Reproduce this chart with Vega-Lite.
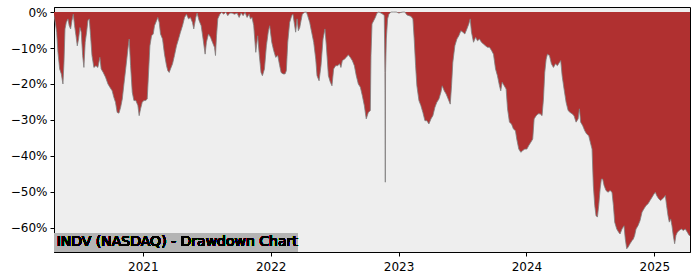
{
  "$schema": "https://vega.github.io/schema/vega-lite/v6.json",
  "width": 636,
  "height": 245,
  "autosize": {"type": "none"},
  "padding": {"left": 54, "top": 7, "right": 10, "bottom": 28},
  "background": "white",
  "config": {
    "font": "DejaVu Sans",
    "view": {"stroke": "black", "strokeWidth": 1, "fill": "#eeeeee"},
    "axis": {"grid": false, "domainColor": "black", "tickColor": "black", "labelColor": "black", "labelFontSize": 12, "tickSize": 4, "title": null, "labelFont": "DejaVu Sans"}
  },
  "data": {"values": [
    {"year":2020.305,"drawdown":-0.01},{"year":2020.315,"drawdown":-0.029},{"year":2020.326,"drawdown":-0.056},{"year":2020.336,"drawdown":-0.112},{"year":2020.349,"drawdown":-0.158},{"year":2020.362,"drawdown":-0.172},{"year":2020.375,"drawdown":-0.2},{"year":2020.383,"drawdown":-0.14},{"year":2020.391,"drawdown":-0.047},{"year":2020.401,"drawdown":-0.029},{"year":2020.414,"drawdown":-0.019},{"year":2020.424,"drawdown":-0.038},{"year":2020.435,"drawdown":-0.047},{"year":2020.445,"drawdown":-0.024},{"year":2020.456,"drawdown":-0.006},{"year":2020.466,"drawdown":-0.038},{"year":2020.477,"drawdown":-0.066},{"year":2020.487,"drawdown":-0.094},{"year":2020.497,"drawdown":-0.075},{"year":2020.508,"drawdown":-0.043},{"year":2020.518,"drawdown":-0.056},{"year":2020.529,"drawdown":-0.121},{"year":2020.539,"drawdown":-0.154},{"year":2020.549,"drawdown":-0.084},{"year":2020.56,"drawdown":-0.056},{"year":2020.57,"drawdown":-0.024},{"year":2020.581,"drawdown":-0.019},{"year":2020.591,"drawdown":-0.066},{"year":2020.602,"drawdown":-0.121},{"year":2020.617,"drawdown":-0.154},{"year":2020.633,"drawdown":-0.149},{"year":2020.648,"drawdown":-0.154},{"year":2020.664,"drawdown":-0.126},{"year":2020.674,"drawdown":-0.158},{"year":2020.69,"drawdown":-0.168},{"year":2020.708,"drawdown":-0.181},{"year":2020.727,"drawdown":-0.2},{"year":2020.742,"drawdown":-0.209},{"year":2020.76,"drawdown":-0.219},{"year":2020.773,"drawdown":-0.237},{"year":2020.786,"drawdown":-0.251},{"year":2020.799,"drawdown":-0.279},{"year":2020.813,"drawdown":-0.281},{"year":2020.826,"drawdown":-0.265},{"year":2020.839,"drawdown":-0.242},{"year":2020.852,"drawdown":-0.2},{"year":2020.867,"drawdown":-0.154},{"year":2020.883,"drawdown":-0.103},{"year":2020.893,"drawdown":-0.075},{"year":2020.904,"drawdown":-0.149},{"year":2020.917,"drawdown":-0.223},{"year":2020.93,"drawdown":-0.246},{"year":2020.945,"drawdown":-0.246},{"year":2020.961,"drawdown":-0.26},{"year":2020.971,"drawdown":-0.288},{"year":2020.982,"drawdown":-0.269},{"year":2020.995,"drawdown":-0.251},{"year":2021.008,"drawdown":-0.246},{"year":2021.021,"drawdown":-0.246},{"year":2021.034,"drawdown":-0.242},{"year":2021.042,"drawdown":-0.186},{"year":2021.055,"drawdown":-0.094},{"year":2021.068,"drawdown":-0.066},{"year":2021.081,"drawdown":-0.061},{"year":2021.091,"drawdown":-0.038},{"year":2021.107,"drawdown":-0.024},{"year":2021.117,"drawdown":-0.015},{"year":2021.128,"drawdown":-0.029},{"year":2021.138,"drawdown":-0.061},{"year":2021.154,"drawdown":-0.075},{"year":2021.169,"drawdown":-0.117},{"year":2021.185,"drawdown":-0.149},{"year":2021.195,"drawdown":-0.163},{"year":2021.206,"drawdown":-0.168},{"year":2021.216,"drawdown":-0.158},{"year":2021.232,"drawdown":-0.144},{"year":2021.247,"drawdown":-0.121},{"year":2021.263,"drawdown":-0.094},{"year":2021.279,"drawdown":-0.075},{"year":2021.294,"drawdown":-0.056},{"year":2021.31,"drawdown":-0.038},{"year":2021.326,"drawdown":-0.015},{"year":2021.341,"drawdown":-0.006},{"year":2021.357,"drawdown":-0.019},{"year":2021.372,"drawdown":-0.015},{"year":2021.388,"drawdown":-0.029},{"year":2021.398,"drawdown":-0.047},{"year":2021.414,"drawdown":-0.015},{"year":2021.424,"drawdown":-0.003},{"year":2021.44,"drawdown":-0.024},{"year":2021.456,"drawdown":-0.038},{"year":2021.471,"drawdown":-0.075},{"year":2021.487,"drawdown":-0.117},{"year":2021.497,"drawdown":-0.084},{"year":2021.513,"drawdown":-0.061},{"year":2021.529,"drawdown":-0.07},{"year":2021.544,"drawdown":-0.084},{"year":2021.56,"drawdown":-0.098},{"year":2021.568,"drawdown":-0.121},{"year":2021.576,"drawdown":-0.066},{"year":2021.586,"drawdown":-0.019},{"year":2021.602,"drawdown":-0.006},{"year":2021.617,"drawdown":-0.001},{"year":2021.633,"drawdown":-0.006},{"year":2021.648,"drawdown":0},{"year":2021.664,"drawdown":-0.01},{"year":2021.68,"drawdown":-0.003},{"year":2021.698,"drawdown":-0.003},{"year":2021.716,"drawdown":-0.006},{"year":2021.737,"drawdown":-0.003},{"year":2021.753,"drawdown":-0.015},{"year":2021.768,"drawdown":-0.003},{"year":2021.784,"drawdown":-0.01},{"year":2021.799,"drawdown":-0.001},{"year":2021.815,"drawdown":-0.015},{"year":2021.831,"drawdown":-0.006},{"year":2021.841,"drawdown":-0.019},{"year":2021.854,"drawdown":-0.015},{"year":2021.867,"drawdown":-0.038},{"year":2021.883,"drawdown":-0.112},{"year":2021.898,"drawdown":-0.066},{"year":2021.911,"drawdown":-0.121},{"year":2021.924,"drawdown":-0.168},{"year":2021.935,"drawdown":-0.177},{"year":2021.951,"drawdown":-0.158},{"year":2021.966,"drawdown":-0.094},{"year":2021.982,"drawdown":-0.052},{"year":2021.992,"drawdown":-0.038},{"year":2022.008,"drawdown":-0.084},{"year":2022.023,"drawdown":-0.107},{"year":2022.039,"drawdown":-0.126},{"year":2022.055,"drawdown":-0.121},{"year":2022.07,"drawdown":-0.149},{"year":2022.081,"drawdown":-0.168},{"year":2022.096,"drawdown":-0.172},{"year":2022.112,"drawdown":-0.172},{"year":2022.122,"drawdown":-0.163},{"year":2022.133,"drawdown":-0.084},{"year":2022.148,"drawdown":-0.029},{"year":2022.164,"drawdown":-0.01},{"year":2022.174,"drawdown":-0.006},{"year":2022.185,"drawdown":-0.033},{"year":2022.195,"drawdown":-0.056},{"year":2022.206,"drawdown":-0.019},{"year":2022.216,"drawdown":-0.052},{"year":2022.227,"drawdown":-0.043},{"year":2022.237,"drawdown":-0.024},{"year":2022.247,"drawdown":-0.006},{"year":2022.263,"drawdown":-0.001},{"year":2022.279,"drawdown":0},{"year":2022.289,"drawdown":-0.01},{"year":2022.305,"drawdown":-0.029},{"year":2022.32,"drawdown":-0.056},{"year":2022.336,"drawdown":-0.084},{"year":2022.352,"drawdown":-0.131},{"year":2022.362,"drawdown":-0.177},{"year":2022.378,"drawdown":-0.191},{"year":2022.393,"drawdown":-0.149},{"year":2022.409,"drawdown":-0.075},{"year":2022.424,"drawdown":-0.047},{"year":2022.435,"drawdown":-0.094},{"year":2022.451,"drawdown":-0.177},{"year":2022.466,"drawdown":-0.195},{"year":2022.479,"drawdown":-0.205},{"year":2022.492,"drawdown":-0.158},{"year":2022.508,"drawdown":-0.149},{"year":2022.523,"drawdown":-0.149},{"year":2022.539,"drawdown":-0.144},{"year":2022.549,"drawdown":-0.154},{"year":2022.56,"drawdown":-0.135},{"year":2022.576,"drawdown":-0.131},{"year":2022.591,"drawdown":-0.126},{"year":2022.607,"drawdown":-0.119},{"year":2022.622,"drawdown":-0.126},{"year":2022.638,"drawdown":-0.135},{"year":2022.654,"drawdown":-0.149},{"year":2022.669,"drawdown":-0.177},{"year":2022.685,"drawdown":-0.2},{"year":2022.701,"drawdown":-0.209},{"year":2022.716,"drawdown":-0.232},{"year":2022.732,"drawdown":-0.26},{"year":2022.747,"drawdown":-0.297},{"year":2022.763,"drawdown":-0.279},{"year":2022.779,"drawdown":-0.274},{"year":2022.784,"drawdown":-0.121},{"year":2022.792,"drawdown":-0.033},{"year":2022.805,"drawdown":-0.024},{"year":2022.818,"drawdown":-0.015},{"year":2022.831,"drawdown":-0.003},{"year":2022.846,"drawdown":0},{"year":2022.862,"drawdown":-0.003},{"year":2022.878,"drawdown":-0.006},{"year":2022.888,"drawdown":-0.01},{"year":2022.893,"drawdown":-0.168},{"year":2022.896,"drawdown":-0.473},{"year":2022.898,"drawdown":-0.168},{"year":2022.904,"drawdown":-0.075},{"year":2022.914,"drawdown":-0.019},{"year":2022.924,"drawdown":-0.006},{"year":2022.94,"drawdown":0},{"year":2022.961,"drawdown":0},{"year":2022.982,"drawdown":0},{"year":2023.003,"drawdown":-0.003},{"year":2023.018,"drawdown":-0.001},{"year":2023.034,"drawdown":0},{"year":2023.049,"drawdown":0},{"year":2023.065,"drawdown":-0.008},{"year":2023.081,"drawdown":-0.01},{"year":2023.096,"drawdown":-0.012},{"year":2023.112,"drawdown":-0.019},{"year":2023.122,"drawdown":-0.075},{"year":2023.133,"drawdown":-0.149},{"year":2023.143,"drawdown":-0.205},{"year":2023.159,"drawdown":-0.246},{"year":2023.174,"drawdown":-0.26},{"year":2023.19,"drawdown":-0.279},{"year":2023.206,"drawdown":-0.302},{"year":2023.221,"drawdown":-0.302},{"year":2023.237,"drawdown":-0.311},{"year":2023.253,"drawdown":-0.297},{"year":2023.268,"drawdown":-0.288},{"year":2023.284,"drawdown":-0.265},{"year":2023.299,"drawdown":-0.251},{"year":2023.315,"drawdown":-0.242},{"year":2023.331,"drawdown":-0.223},{"year":2023.341,"drawdown":-0.205},{"year":2023.357,"drawdown":-0.219},{"year":2023.372,"drawdown":-0.228},{"year":2023.388,"drawdown":-0.242},{"year":2023.404,"drawdown":-0.256},{"year":2023.414,"drawdown":-0.205},{"year":2023.424,"drawdown":-0.14},{"year":2023.44,"drawdown":-0.094},{"year":2023.456,"drawdown":-0.075},{"year":2023.471,"drawdown":-0.066},{"year":2023.487,"drawdown":-0.052},{"year":2023.503,"drawdown":-0.056},{"year":2023.518,"drawdown":-0.061},{"year":2023.534,"drawdown":-0.047},{"year":2023.549,"drawdown":-0.033},{"year":2023.56,"drawdown":-0.019},{"year":2023.57,"drawdown":-0.056},{"year":2023.586,"drawdown":-0.084},{"year":2023.602,"drawdown":-0.07},{"year":2023.617,"drawdown":-0.08},{"year":2023.633,"drawdown":-0.075},{"year":2023.648,"drawdown":-0.084},{"year":2023.664,"drawdown":-0.089},{"year":2023.68,"drawdown":-0.094},{"year":2023.695,"drawdown":-0.098},{"year":2023.711,"drawdown":-0.098},{"year":2023.727,"drawdown":-0.107},{"year":2023.742,"drawdown":-0.117},{"year":2023.758,"drawdown":-0.158},{"year":2023.773,"drawdown":-0.177},{"year":2023.789,"drawdown":-0.205},{"year":2023.799,"drawdown":-0.219},{"year":2023.81,"drawdown":-0.195},{"year":2023.826,"drawdown":-0.205},{"year":2023.841,"drawdown":-0.214},{"year":2023.852,"drawdown":-0.269},{"year":2023.867,"drawdown":-0.306},{"year":2023.883,"drawdown":-0.311},{"year":2023.898,"drawdown":-0.325},{"year":2023.914,"drawdown":-0.33},{"year":2023.924,"drawdown":-0.353},{"year":2023.94,"drawdown":-0.381},{"year":2023.956,"drawdown":-0.39},{"year":2023.971,"drawdown":-0.385},{"year":2023.987,"drawdown":-0.381},{"year":2024.003,"drawdown":-0.381},{"year":2024.018,"drawdown":-0.371},{"year":2024.034,"drawdown":-0.362},{"year":2024.049,"drawdown":-0.353},{"year":2024.06,"drawdown":-0.297},{"year":2024.076,"drawdown":-0.288},{"year":2024.091,"drawdown":-0.283},{"year":2024.107,"drawdown":-0.283},{"year":2024.122,"drawdown":-0.288},{"year":2024.133,"drawdown":-0.242},{"year":2024.143,"drawdown":-0.168},{"year":2024.154,"drawdown":-0.131},{"year":2024.164,"drawdown":-0.117},{"year":2024.18,"drawdown":-0.121},{"year":2024.195,"drawdown":-0.144},{"year":2024.211,"drawdown":-0.154},{"year":2024.227,"drawdown":-0.144},{"year":2024.242,"drawdown":-0.149},{"year":2024.258,"drawdown":-0.14},{"year":2024.268,"drawdown":-0.135},{"year":2024.279,"drawdown":-0.177},{"year":2024.294,"drawdown":-0.214},{"year":2024.31,"drawdown":-0.251},{"year":2024.326,"drawdown":-0.274},{"year":2024.341,"drawdown":-0.279},{"year":2024.357,"drawdown":-0.283},{"year":2024.372,"drawdown":-0.288},{"year":2024.388,"drawdown":-0.306},{"year":2024.404,"drawdown":-0.297},{"year":2024.414,"drawdown":-0.269},{"year":2024.424,"drawdown":-0.306},{"year":2024.44,"drawdown":-0.316},{"year":2024.456,"drawdown":-0.33},{"year":2024.471,"drawdown":-0.339},{"year":2024.487,"drawdown":-0.344},{"year":2024.503,"drawdown":-0.367},{"year":2024.513,"drawdown":-0.381},{"year":2024.523,"drawdown":-0.482},{"year":2024.534,"drawdown":-0.538},{"year":2024.544,"drawdown":-0.566},{"year":2024.555,"drawdown":-0.57},{"year":2024.565,"drawdown":-0.538},{"year":2024.576,"drawdown":-0.492},{"year":2024.586,"drawdown":-0.464},{"year":2024.596,"drawdown":-0.464},{"year":2024.607,"drawdown":-0.482},{"year":2024.622,"drawdown":-0.496},{"year":2024.638,"drawdown":-0.501},{"year":2024.654,"drawdown":-0.496},{"year":2024.669,"drawdown":-0.501},{"year":2024.68,"drawdown":-0.538},{"year":2024.69,"drawdown":-0.584},{"year":2024.706,"drawdown":-0.603},{"year":2024.721,"drawdown":-0.612},{"year":2024.732,"drawdown":-0.617},{"year":2024.747,"drawdown":-0.603},{"year":2024.763,"drawdown":-0.594},{"year":2024.773,"drawdown":-0.631},{"year":2024.784,"drawdown":-0.658},{"year":2024.794,"drawdown":-0.654},{"year":2024.81,"drawdown":-0.644},{"year":2024.826,"drawdown":-0.635},{"year":2024.836,"drawdown":-0.631},{"year":2024.846,"drawdown":-0.621},{"year":2024.857,"drawdown":-0.603},{"year":2024.872,"drawdown":-0.594},{"year":2024.888,"drawdown":-0.58},{"year":2024.904,"drawdown":-0.556},{"year":2024.919,"drawdown":-0.547},{"year":2024.935,"drawdown":-0.538},{"year":2024.951,"drawdown":-0.533},{"year":2024.966,"drawdown":-0.524},{"year":2024.982,"drawdown":-0.515},{"year":2024.997,"drawdown":-0.506},{"year":2025.008,"drawdown":-0.501},{"year":2025.018,"drawdown":-0.51},{"year":2025.034,"drawdown":-0.519},{"year":2025.049,"drawdown":-0.524},{"year":2025.065,"drawdown":-0.519},{"year":2025.076,"drawdown":-0.515},{"year":2025.086,"drawdown":-0.51},{"year":2025.096,"drawdown":-0.538},{"year":2025.107,"drawdown":-0.566},{"year":2025.117,"drawdown":-0.584},{"year":2025.128,"drawdown":-0.575},{"year":2025.138,"drawdown":-0.594},{"year":2025.148,"drawdown":-0.621},{"year":2025.159,"drawdown":-0.644},{"year":2025.169,"drawdown":-0.621},{"year":2025.18,"drawdown":-0.612},{"year":2025.195,"drawdown":-0.607},{"year":2025.211,"drawdown":-0.603},{"year":2025.227,"drawdown":-0.607},{"year":2025.242,"drawdown":-0.603},{"year":2025.258,"drawdown":-0.612},{"year":2025.273,"drawdown":-0.621},{"year":2025.279,"drawdown":-0.621}
  ]},
  "layer": [
    {
      "mark": {"type": "area", "color": "#b03030", "clip": true},
      "encoding": {
        "x": {"field": "year", "type": "quantitative", "scale": {"domain": [2020.305, 2025.279], "nice": false, "zero": false},
              "axis": {"values": [2021, 2022, 2023, 2024, 2025], "format": "d", "labelPadding": 5}},
        "y": {"field": "drawdown", "type": "quantitative", "scale": {"domain": [-0.667, 0.014], "nice": false, "zero": false},
              "axis": {"orient": "left", "values": [0, -0.1, -0.2, -0.3, -0.4, -0.5, -0.6], "format": ".0%", "labelPadding": 3}},
        "y2": {"datum": 0}
      }
    },
    {
      "mark": {"type": "line", "stroke": "#808080", "strokeWidth": 1, "opacity": 0.8, "clip": true},
      "encoding": {
        "x": {"field": "year", "type": "quantitative"},
        "y": {"field": "drawdown", "type": "quantitative"}
      }
    },
    {
      "mark": {"type": "rect", "fill": "#b4b4b4"},
      "encoding": {
        "x": {"datum": 2020.305},
        "x2": {"datum": 2022.209},
        "y": {"datum": -0.667},
        "y2": {"datum": -0.614}
      }
    },
    {
      "mark": {"type": "text", "align": "left", "baseline": "middle", "fontSize": 14, "font": "DejaVu Sans", "color": "black"},
      "encoding": {
        "x": {"datum": 2020.326},
        "y": {"datum": -0.640},
        "text": {"value": "INDV (NASDAQ) - Drawdown Chart"}
      }
    }
  ]
}
